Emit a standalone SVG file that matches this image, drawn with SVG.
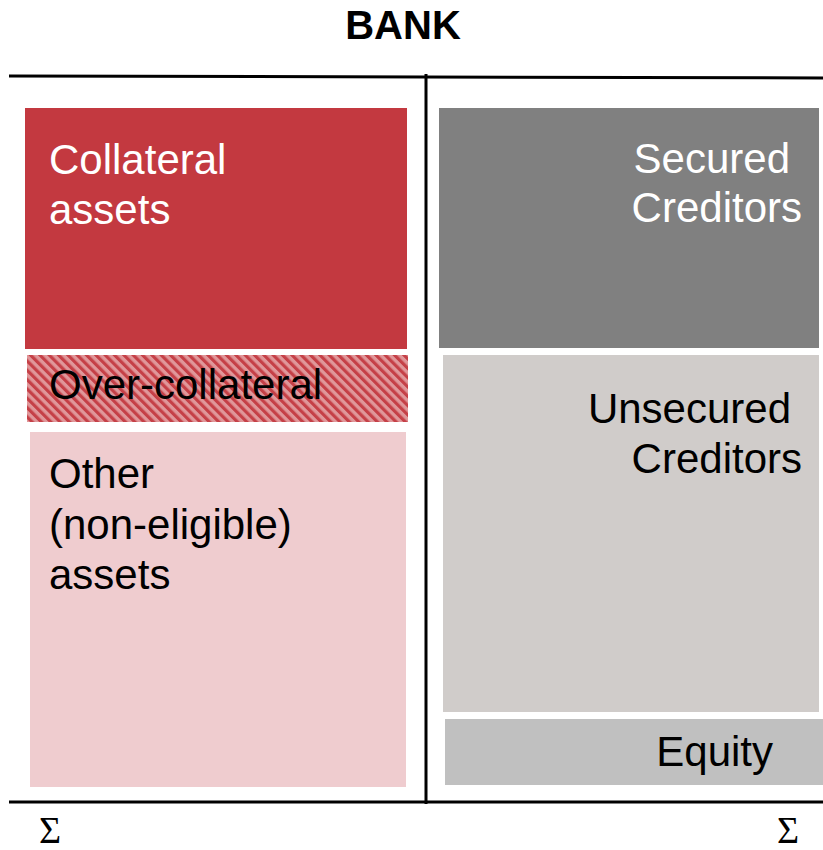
<svg xmlns="http://www.w3.org/2000/svg" width="823" height="850" viewBox="0 0 823 850">
  <style>
    .lbl { font-family: "Liberation Sans", Arial, sans-serif; font-size: 42px; }
    .light { fill: #ffffff; }
    .dark { fill: #000000; }
    .rule { stroke: #000000; stroke-width: 3; fill: none; }
    .sum { font-family: "Liberation Serif", "Times New Roman", serif; font-size: 38px; fill: #000000; }
  </style>
  <defs>
    <!-- diagonal red stripes over a light red ground -->
    <pattern id="hatch" patternUnits="userSpaceOnUse" width="6.6" height="6.6" patternTransform="rotate(-45)">
      <rect x="0" y="0" width="6.6" height="6.6" fill="#E0979A"/>
      <rect x="0" y="0" width="3.2" height="6.6" fill="#C54047"/>
    </pattern>
  </defs>

  <!-- title -->
  <text x="403" y="39" text-anchor="middle" font-family="Liberation Sans, Arial, sans-serif" font-size="40" font-weight="bold">BANK</text>

  <!-- assets side -->
  <g id="collateral-assets">
    <rect x="25" y="108" width="382" height="241" fill="#C33940"/>
    <text class="lbl light" x="49" y="174">Collateral</text>
    <text class="lbl light" x="49" y="224">assets</text>
  </g>
  <g id="over-collateral">
    <rect x="27" y="355" width="381" height="67" fill="url(#hatch)"/>
    <text class="lbl dark" x="49" y="399">Over-collateral</text>
  </g>
  <g id="other-assets">
    <rect x="30" y="432" width="376" height="355" fill="#EFCCCF"/>
    <text class="lbl dark" x="49" y="488">Other</text>
    <text class="lbl dark" x="49" y="539">(non-eligible)</text>
    <text class="lbl dark" x="49" y="589">assets</text>
  </g>

  <!-- liabilities side -->
  <g id="secured-creditors">
    <rect x="439" y="108" width="380" height="240" fill="#808080"/>
    <text class="lbl light" x="790" y="173" text-anchor="end">Secured</text>
    <text class="lbl light" x="802" y="222" text-anchor="end">Creditors</text>
  </g>
  <g id="unsecured-creditors">
    <rect x="443" y="355" width="376" height="357" fill="#D0CCCA"/>
    <text class="lbl dark" x="791" y="423" text-anchor="end">Unsecured</text>
    <text class="lbl dark" x="802" y="473" text-anchor="end">Creditors</text>
  </g>
  <g id="equity">
    <rect x="445" y="719" width="378" height="66" fill="#C0C0C0"/>
    <text class="lbl dark" x="773" y="766" text-anchor="end">Equity</text>
  </g>

  <!-- balance sheet frame -->
  <g id="frame">
    <line class="rule" x1="9" y1="76" x2="823" y2="78"/>
    <line class="rule" x1="426" y1="74" x2="426" y2="804"/>
    <line class="rule" x1="9" y1="802" x2="823" y2="802"/>
  </g>

  <!-- totals -->
  <text class="sum" x="50" y="843" text-anchor="middle">Σ</text>
  <text class="sum" x="788" y="843" text-anchor="middle">Σ</text>
</svg>
